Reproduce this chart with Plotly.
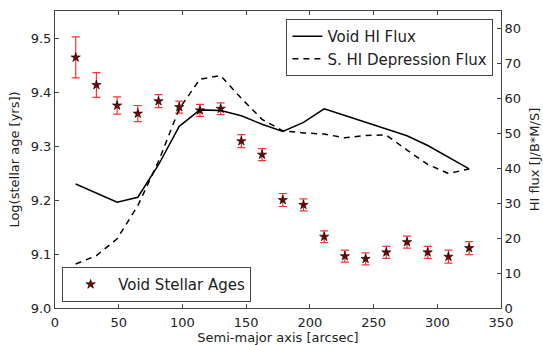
import plotly.graph_objects as go

# Semi-major axis positions of the annuli [arcsec]
semi_major = [16.25, 32.5, 48.75, 65.0, 81.25, 97.5, 113.75, 130.0, 146.25, 162.5,
              178.75, 195.0, 211.25, 227.5, 243.75, 260.0, 276.25, 292.5, 308.75, 325.0]

# Log stellar ages of the void and their uncertainties
log_age = [9.464, 9.413, 9.375, 9.360, 9.383, 9.372, 9.366, 9.369, 9.309, 9.284,
           9.200, 9.191, 9.132, 9.096, 9.091, 9.103, 9.122, 9.103, 9.095, 9.111]
log_age_err = [0.038, 0.023, 0.016, 0.015, 0.012, 0.011, 0.011, 0.011, 0.012, 0.011,
               0.012, 0.011, 0.011, 0.011, 0.011, 0.011, 0.011, 0.011, 0.012, 0.012]

# HI flux profiles [J/B*M/S]
void_hi_flux = [35.5, 33.0, 30.3, 31.7, 41.0, 52.0, 56.7, 56.5, 55.0, 52.6,
                50.5, 53.1, 57.0, 55.1, 53.1, 51.2, 49.3, 46.5, 43.1, 39.8]
s_hi_depression_flux = [12.6, 15.0, 19.8, 29.3, 42.0, 57.0, 65.5, 66.5, 60.0, 54.0,
                        50.7, 50.1, 49.8, 48.7, 49.4, 49.5, 45.2, 41.1, 38.5, 39.8]

x_ticks = [0, 50, 100, 150, 200, 250, 300, 350]
age_ticks = [9.0, 9.1, 9.2, 9.3, 9.4, 9.5]
flux_ticks = [0, 10, 20, 30, 40, 50, 60, 70, 80]

FONT = "DejaVu Sans"
AXIS_COLOR = "#444444"
TEXT_COLOR = "#222222"

fig = go.Figure()

fig.add_trace(go.Scatter(
    x=semi_major, y=void_hi_flux, yaxis="y2", mode="lines",
    name="Void HI Flux", line=dict(color="black", width=1.5),
    legend="legend",
))
fig.add_trace(go.Scatter(
    x=semi_major, y=s_hi_depression_flux, yaxis="y2", mode="lines",
    name="S. HI Depression Flux", line=dict(color="black", width=1.5, dash="6px,5px"),
    legend="legend",
))
fig.add_trace(go.Scatter(
    x=semi_major, y=log_age, yaxis="y", mode="markers",
    name="Void Stellar Ages",
    marker=dict(symbol="star", size=7, color="#7a0000", line=dict(color="black", width=0.6)),
    error_y=dict(type="data", array=log_age_err, visible=True, color="#ff3333",
                 thickness=1.2, width=4),
    legend="legend2",
))

fig.update_layout(
    width=543, height=345,
    margin=dict(l=55, r=42, t=11, b=37, autoexpand=False),
    paper_bgcolor="white", plot_bgcolor="white",
    font=dict(family=FONT, size=13, color=TEXT_COLOR),
    xaxis=dict(
        range=[0, 350], tickvals=x_ticks, ticks="inside", ticklen=4, tickcolor=AXIS_COLOR,
        showline=True, linecolor=AXIS_COLOR, linewidth=1, mirror="ticks",
        showgrid=False, zeroline=False, automargin=False,
        title=dict(text="Semi-major axis [arcsec]", standoff=4, font=dict(size=13)),
        tickfont=dict(size=13), ticklabelstandoff=2,
    ),
    yaxis=dict(
        range=[9.0, 9.55], tickvals=age_ticks, tickformat=".1f",
        ticks="inside", ticklen=4, tickcolor=AXIS_COLOR,
        showline=True, linecolor=AXIS_COLOR, linewidth=1, mirror=True,
        showgrid=False, zeroline=False, automargin=False,
        title=dict(text="Log(stellar age [yrs])", standoff=8, font=dict(size=13)),
        tickfont=dict(size=13),
    ),
    yaxis2=dict(
        range=[0, 85], tickvals=flux_ticks, overlaying="y", side="right",
        ticks="inside", ticklen=4, tickcolor=AXIS_COLOR,
        showline=True, linecolor=AXIS_COLOR, linewidth=1,
        showgrid=False, zeroline=False, automargin=False,
        title=dict(text="HI flux [J/B*M/S]", standoff=9, font=dict(size=13)),
        tickfont=dict(size=13),
    ),
    legend=dict(
        x=0.983, y=0.973, xanchor="right", yanchor="top",
        bgcolor="white", bordercolor=AXIS_COLOR, borderwidth=1,
        font=dict(size=15, color=TEXT_COLOR), tracegroupgap=0, itemwidth=30,
    ),
    legend2=dict(
        x=0.016, y=0.02, xanchor="left", yanchor="bottom",
        bgcolor="white", bordercolor=AXIS_COLOR, borderwidth=1,
        font=dict(size=15, color=TEXT_COLOR), itemwidth=45,
    ),
    showlegend=True,
)

fig.write_html("out.html")
